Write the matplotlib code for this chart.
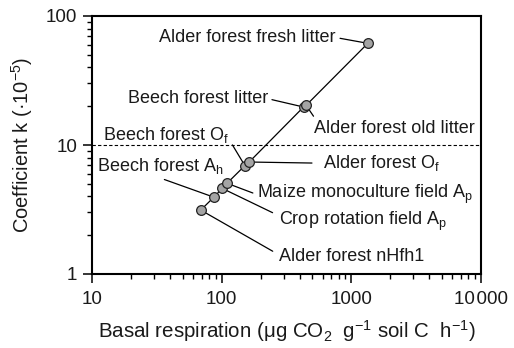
import matplotlib
matplotlib.use("Agg")
import matplotlib.pyplot as plt
from matplotlib.ticker import FixedLocator, FixedFormatter, LogLocator, NullFormatter

plt.rcParams['font.family'] = ['Liberation Sans', 'DejaVu Sans']
plt.rcParams['mathtext.fontset'] = 'custom'
plt.rcParams['mathtext.rm'] = 'Liberation Sans'
plt.rcParams['mathtext.it'] = 'Liberation Sans'

# Sites, ordered by basal respiration
sites = [
    "Alder forest nHfh1",
    "Beech forest A$_\\mathregular{h}$",
    "Crop rotation field A$_\\mathregular{p}$",
    "Maize monoculture field A$_\\mathregular{p}$",
    "Beech forest O$_\\mathregular{f}$",
    "Alder forest O$_\\mathregular{f}$",
    "Beech forest litter",
    "Alder forest old litter",
    "Alder forest fresh litter",
]
basal_resp = [69, 87, 101, 110, 151, 163, 428, 448, 1340]
coef_k = [3.13, 3.94, 4.61, 5.05, 6.92, 7.38, 19.7, 20.3, 61.4]

x_ticks = [10, 100, 1000, 10000]
x_tick_labels = ["10", "100", "1000", "10\u200a000"]
y_ticks = [1, 10, 100]
y_tick_labels = ["1", "10", "100"]
k_threshold = 10

# label placement (axes fraction), alignment, leader attachment point, gap
label_style = [
    ((0.481, 0.050), 'left', (0.0, 0.6), 3),
    ((0.013, 0.400), 'left', (0.45, 0.0), 2),
    ((0.481, 0.189), 'left', (0.0, 0.75), 3),
    ((0.424, 0.294), 'left', (0.0, 0.5), 1),
    ((0.352, 0.519), 'right', (1.0, 0.3), 1),
    ((0.594, 0.410), 'left', (0.0, 0.5), 6),
    ((0.452, 0.662), 'right', (1.0, 0.5), 1),
    ((0.571, 0.546), 'left', (0.02, 0.9), 1),
    ((0.627, 0.899), 'right', (1.0, 0.5), 1),
]

fig = plt.figure(figsize=(5.14, 3.48), dpi=100)
ax = fig.add_axes([92 / 514, 74 / 348, 389 / 514, 258 / 348])

ax.set_xscale('log')
ax.set_yscale('log')
ax.set_xlim(10, 10000)
ax.set_ylim(1, 100)

ax.axhline(k_threshold, color='black', lw=0.8, ls=(0, (3, 2)), zorder=1)
ax.plot(basal_resp, coef_k, color='black', lw=0.9, marker='o', ms=7.0,
        mfc='#a4a4a4', mec='#222222', mew=0.9, zorder=4)

for name, x, y, (pos, ha, rel, gap) in zip(sites, basal_resp, coef_k, label_style):
    ax.annotate(name, xy=(x, y), xytext=pos, textcoords='axes fraction',
                ha=ha, va='baseline', fontsize=13, color='#1a1a1a', zorder=2,
                arrowprops=dict(arrowstyle='-', color='black', lw=0.9,
                                relpos=rel, shrinkA=gap, shrinkB=0))

ax.xaxis.set_major_locator(FixedLocator(x_ticks))
ax.xaxis.set_major_formatter(FixedFormatter(x_tick_labels))
ax.yaxis.set_major_locator(FixedLocator(y_ticks))
ax.yaxis.set_major_formatter(FixedFormatter(y_tick_labels))
ax.xaxis.set_minor_locator(LogLocator(base=10, subs=range(2, 10)))
ax.yaxis.set_minor_locator(LogLocator(base=10, subs=range(2, 10)))
ax.xaxis.set_minor_formatter(NullFormatter())
ax.yaxis.set_minor_formatter(NullFormatter())

ax.tick_params(which='major', direction='out', length=6.5, width=1.1,
               labelsize=13.5, labelcolor='#1a1a1a', pad=4)
ax.tick_params(axis='x', which='major', pad=6)
ax.tick_params(which='minor', direction='out', length=3.3, width=1.0)
ax.tick_params(top=False, right=False, which='both')
for s in ax.spines.values():
    s.set_linewidth(1.5)

ax.set_xlabel("Basal respiration (\u03bcg CO$_\\mathregular{2}$  g$^{\\mathregular{\u22121}}$ soil C  h$^{\\mathregular{\u22121}}$)",
              fontsize=14.8, color='#1a1a1a', labelpad=7)
ax.set_ylabel("Coefficient k (\u00b710$^{\\mathregular{\u22125}}$)", fontsize=14.5,
              color='#1a1a1a', labelpad=8)

fig.savefig("out.png", dpi=100)
